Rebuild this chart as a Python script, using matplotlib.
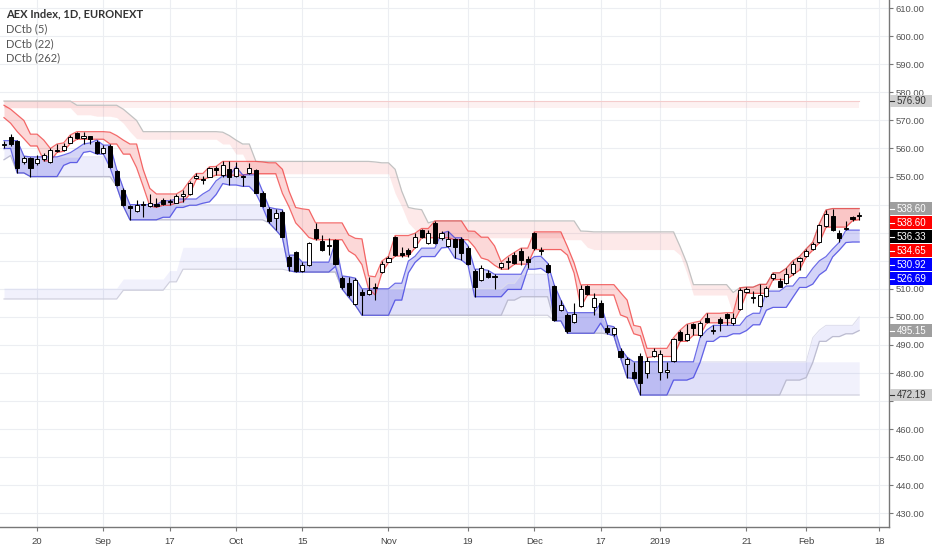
#import the libraries
import numpy as np
import pandas as pd
import matplotlib
matplotlib.use("Agg")
import matplotlib.pyplot as plt
import matplotlib.transforms as mtransforms
from matplotlib.patches import Rectangle
from matplotlib.lines import Line2D

# bars before the visible window (Jul 13 - Aug 10 2018), only used for the channels
pre_highs = [559.5, 561.0, 563.0, 566.0, 569.0, 572.0, 574.0, 575.0, 575.6, 576.2,
             576.9, 575.2, 574.8, 575.3, 574.6, 573.8, 574.9, 575.4, 574.0, 572.0, 570.0]
pre_lows = [556.0, 557.5, 559.5, 562.0, 565.0, 568.0, 570.0, 571.5, 572.5, 573.5,
            574.5, 572.0, 571.5, 572.0, 571.0, 570.5, 571.5, 571.0, 569.0, 566.0, 563.5]

# daily candles Aug 13 2018 - Feb 13 2019
opens = [561.3, 564.0, 562.5, 555.3, 556.5, 554.7, 556.1, 555.3, 559.6, 559.4,
         562.1, 565.4, 563.8, 564.5, 562.4, 558.5, 560.9, 552.0, 545.2, 539.5,
         537.8, 540.0, 539.5, 540.2, 541.6, 540.8, 540.7, 543.2, 543.8, 549.5,
         548.6, 550.0, 553.0, 550.5, 552.6, 550.2, 550.2, 551.3, 552.3, 544.3,
         538.5, 535.1, 537.5, 521.5, 523.2, 516.5, 518.5, 531.5, 527.1, 525.4,
         527.4, 513.7, 512.2, 504.6, 509.0, 508.2, 510.3, 516.1, 519.7, 528.6,
         522.6, 523.8, 525.0, 530.9, 526.4, 533.5, 528.0, 525.3, 527.6, 527.6,
         524.4, 516.4, 513.3, 515.8, 514.6, 517.9, 519.4, 522.1, 523.6, 520.6,
         530.0, 523.6, 518.5, 511.0, 502.5, 500.7, 498.3, 503.9, 511.0, 503.4,
         504.8, 496.2, 493.8, 487.9, 483.1, 480.5, 486.2, 479.9, 486.2, 480.3,
         480.5, 484.3, 494.5, 491.8, 497.4, 493.5, 499.7, 495.1, 499.2, 500.9,
         497.7, 502.8, 508.8, 506.6, 504.0, 507.5, 513.7, 512.8, 512.0, 515.5,
         519.9, 521.8, 524.2, 526.8, 532.5, 536.0, 529.8, 531.2, 535.6, 536.1]
highs = [562.8, 565.1, 563.0, 557.3, 557.0, 557.7, 558.5, 560.0, 561.6, 562.0,
         564.8, 566.0, 565.8, 564.6, 563.0, 561.2, 561.6, 552.5, 545.8, 540.0,
         541.6, 541.4, 543.8, 542.2, 542.4, 542.0, 543.8, 545.2, 548.5, 551.1,
         550.2, 553.5, 553.6, 555.4, 555.4, 555.2, 550.6, 554.9, 552.6, 544.8,
         539.0, 538.5, 538.2, 522.0, 523.6, 519.5, 526.8, 533.5, 529.2, 528.0,
         527.8, 514.6, 514.3, 513.8, 510.0, 514.3, 512.0, 519.9, 521.6, 529.0,
         525.0, 524.5, 529.8, 531.5, 530.9, 534.2, 530.6, 530.5, 528.2, 528.4,
         525.3, 517.0, 518.5, 516.6, 515.2, 519.6, 521.5, 523.0, 524.5, 521.6,
         530.3, 525.0, 519.2, 511.4, 506.0, 501.5, 504.8, 511.4, 511.5, 508.7,
         506.0, 497.0, 496.5, 488.8, 485.6, 484.0, 487.0, 485.8, 488.8, 488.2,
         484.0, 492.6, 495.3, 497.4, 498.0, 498.5, 501.3, 497.0, 500.0, 501.5,
         501.3, 510.4, 510.6, 509.2, 511.6, 511.0, 515.7, 514.0, 517.3, 520.0,
         521.5, 524.2, 526.6, 533.2, 538.1, 538.6, 530.92, 534.0, 536.0, 537.5]
lows = [560.0, 560.9, 551.3, 554.4, 550.0, 554.0, 555.6, 555.0, 558.6, 559.0,
        561.8, 563.3, 561.6, 561.6, 558.0, 558.0, 553.2, 546.5, 539.5, 534.6,
        537.5, 535.5, 539.0, 539.0, 539.8, 539.8, 540.5, 541.0, 543.6, 549.0,
        547.5, 549.7, 550.5, 550.0, 547.0, 549.8, 546.5, 551.0, 544.0, 539.2,
        533.5, 531.0, 528.3, 516.5, 516.0, 516.0, 518.0, 527.5, 523.5, 522.0,
        518.6, 510.0, 507.0, 504.2, 500.6, 507.8, 506.0, 515.7, 519.4, 521.7,
        521.5, 521.5, 524.6, 528.2, 526.0, 526.0, 527.5, 524.8, 521.0, 520.3,
        518.4, 507.2, 512.8, 513.8, 509.8, 517.0, 517.0, 518.8, 518.5, 517.3,
        524.0, 522.0, 515.6, 498.6, 502.0, 494.2, 497.8, 503.5, 507.8, 500.7,
        499.8, 494.0, 493.3, 485.5, 478.4, 478.0, 472.19, 478.4, 485.9, 477.5,
        478.4, 483.8, 491.3, 491.3, 493.5, 493.0, 497.9, 494.0, 495.15, 497.3,
        497.2, 502.4, 508.4, 504.8, 503.4, 507.0, 513.3, 510.5, 511.7, 515.0,
        516.7, 521.4, 523.8, 526.5, 532.0, 530.5, 526.69, 530.95, 534.3, 534.65]
closes = [561.6, 561.6, 553.0, 556.5, 552.9, 556.1, 557.7, 559.4, 559.2, 560.9,
          564.2, 563.6, 564.6, 563.4, 558.5, 560.0, 553.5, 547.0, 539.8, 538.8,
          539.9, 540.4, 540.7, 539.6, 540.4, 541.2, 543.0, 543.8, 547.8, 550.2,
          549.0, 552.9, 552.3, 554.1, 549.7, 552.9, 549.8, 553.1, 544.3, 539.5,
          534.0, 536.9, 528.6, 518.0, 516.5, 518.5, 526.2, 528.0, 524.0, 525.8,
          519.0, 510.7, 507.8, 513.3, 507.8, 509.6, 510.7, 518.8, 520.9, 522.1,
          522.2, 522.4, 528.6, 528.6, 529.8, 526.2, 529.8, 527.6, 525.0, 522.6,
          518.8, 510.5, 517.5, 514.4, 514.1, 519.1, 519.8, 519.1, 520.3, 519.7,
          524.4, 524.0, 516.1, 499.0, 504.2, 495.1, 501.0, 509.8, 508.2, 506.6,
          500.1, 494.5, 495.9, 485.8, 485.0, 478.4, 476.4, 484.4, 487.9, 486.7,
          481.0, 492.1, 491.8, 493.8, 496.2, 497.7, 498.3, 495.5, 498.0, 499.7,
          499.7, 509.6, 510.0, 507.0, 507.8, 510.4, 515.2, 510.8, 515.2, 518.7,
          520.9, 523.5, 525.9, 532.7, 536.5, 530.9, 528.0, 531.6, 534.9, 536.33]

# lowest low / lowest high of the 262 day window coming from older bars (late 2017)
old262_start = [0, 18, 25, 27]
old262_low = [506.4, 509.5, 512.5, 517.0]
old262_high = [510.3, 513.5, 516.5, 524.8]

holidays = ["2018-12-25", "2018-12-26", "2019-01-01"]
tick_dates = ["2018-08-20", "2018-09-03", "2018-09-17", "2018-10-01", "2018-10-15",
              "2018-11-01", "2018-11-19", "2018-12-03", "2018-12-17", "2019-01-02",
              "2019-01-21", "2019-02-01", "2019-02-18"]
tick_labels = ["20", "Sep", "17", "Oct", "15", "Nov", "19", "Dec", "17", "2019",
               "21", "Feb", "18"]
price_ticks = np.arange(430, 611, 10)

days = pd.bdate_range("2018-08-13", "2019-02-22")
days = days[~days.isin(pd.to_datetime(holidays))]
n = len(closes)
x = np.arange(n)

all_h = np.array(pre_highs + highs)
all_l = np.array(pre_lows + lows)
off = len(pre_highs)


def dctb(length):
    # top band: highest high / highest low, bottom band: lowest low / lowest high
    up, up_in, dn, dn_in = [], [], [], []
    for i in range(n):
        j = i + off
        a = max(0, j - length + 1)
        h = all_h[a:j + 1]
        l = all_l[a:j + 1]
        up.append(h.max())
        up_in.append(l.max())
        dn.append(l.min())
        dn_in.append(h.min())
    return np.array(up), np.array(up_in), np.array(dn), np.array(dn_in)


dc5 = dctb(5)
dc22 = dctb(22)
dc262 = list(dctb(262))
step = np.searchsorted(old262_start, x, side="right") - 1
dc262[2] = np.minimum(dc262[2], np.array(old262_low)[step])
dc262[3] = np.minimum(dc262[3], np.array(old262_high)[step])

plt.rcParams["font.family"] = ["Liberation Sans", "DejaVu Sans"]
fig = plt.figure(figsize=(9.32, 5.5), dpi=100)
ax = fig.add_axes([0, 0.042, 889 / 932, 0.958])

red = "#f03c3c"
blue = "#3c3ce0"

# 262
ax.fill_between(x, dc262[1], dc262[0], color=red, alpha=0.07, lw=0)
ax.plot(x, dc262[0], color="#f4cccc", lw=0.8)
ax.fill_between(x, dc262[2], dc262[3], color=blue, alpha=0.07, lw=0)
ax.plot(x, dc262[2], color="#cfcfdc", lw=0.8)
# 22
ax.fill_between(x, dc22[1], dc22[0], color=red, alpha=0.11, lw=0)
ax.plot(x, dc22[0], color="#c2c2c2", lw=0.9)
ax.fill_between(x, dc22[2], dc22[3], color=blue, alpha=0.09, lw=0)
ax.plot(x, dc22[2], color="#bcbcd0", lw=0.9)
ax.plot(x, dc22[3], color="#dcdcec", lw=0.7)
# 5
ax.fill_between(x, dc5[1], dc5[0], color=red, alpha=0.2, lw=0)
ax.plot(x, dc5[0], color=red, lw=0.9, alpha=0.75)
ax.plot(x, dc5[1], color=red, lw=0.9, alpha=0.75)
ax.fill_between(x, dc5[2], dc5[3], color=blue, alpha=0.22, lw=0)
ax.plot(x, dc5[2], color=blue, lw=0.9, alpha=0.75)
ax.plot(x, dc5[3], color=blue, lw=0.9, alpha=0.75)

# candles
o = np.array(opens)
c = np.array(closes)
ax.vlines(x, lows, highs, color="black", lw=0.8, zorder=4)
body_col = np.where(c >= o, "white", "black")
ax.bar(x, np.abs(c - o), bottom=np.minimum(o, c), width=0.62, color=body_col,
       edgecolor="black", linewidth=0.7, zorder=5)

ax.set_xlim(-0.6, 133.5)
ax.set_ylim(425.2, 612.9)

tick_pos = [days.get_loc(pd.Timestamp(d)) for d in tick_dates]
ax.set_xticks(tick_pos)
ax.set_xticklabels(tick_labels)
ax.set_yticks(price_ticks)
ax.set_yticklabels([f"{p:.2f}" for p in price_ticks])
ax.yaxis.tick_right()
ax.tick_params(axis="y", length=3, color="#777777", labelsize=6.8,
               labelcolor="#555555", pad=2)
ax.tick_params(axis="x", length=3, color="#777777", labelsize=6.8,
               labelcolor="#444444", pad=4)
for s in ["top", "left"]:
    ax.spines[s].set_visible(False)
for s in ["right", "bottom"]:
    ax.spines[s].set_color("#777777")
    ax.spines[s].set_linewidth(1.0)
ax.grid(color="#eceef2", lw=0.8)
ax.set_axisbelow(True)

# price boxes on the scale
boxes = [(dc262[0][-1], "#cfcfcf", "#333333"),
         (dc22[0][-1], "#9e9e9e", "white"),
         (dc5[0][-1], "#ff0000", "white"),
         (closes[-1], "#000000", "white"),
         (dc5[1][-1], "#ff0000", "white"),
         (dc5[3][-1], "#0000ff", "white"),
         (dc5[2][-1], "#0000ff", "white"),
         (dc22[2][-1], "#9e9e9e", "white"),
         (dc262[2][-1], "#cfcfcf", "#333333")]
blend = mtransforms.blended_transform_factory(fig.transFigure, ax.transData)
gap = 5.0
prev = None
box_pos = []
for val, fc, tc in boxes:
    ypos = val if prev is None else min(val, prev - gap)
    prev = ypos
    box_pos.append(ypos)
    fig.add_artist(Rectangle((890 / 932, ypos - 2.25), 42 / 932, 4.5, transform=blend,
                             facecolor=fc, edgecolor="none", zorder=10))
    fig.add_artist(Line2D([890 / 932, 894 / 932], [ypos, ypos], transform=blend,
                          color=tc, lw=0.8, zorder=11))
    fig.text(897 / 932, ypos, f"{val:.2f}", transform=blend, ha="left", va="center",
             fontsize=7, color=tc, zorder=12)

# scale labels hidden behind the boxes
for p, lab in zip(price_ticks, ax.get_yticklabels()):
    if min(abs(p - b) for b in box_pos) < 3.0:
        lab.set_visible(False)

# legend
fig.text(6 / 932, 1 - 14 / 550, "AEX Index, 1D, EURONEXT", fontsize=8, color="#333333",
         va="center", family=["Lato", "DejaVu Sans"], weight="bold")
for k, t in enumerate(["DCtb (5)", "DCtb (22)", "DCtb (262)"]):
    fig.text(6 / 932, 1 - (29 + 14.3 * k) / 550, t, fontsize=8, color="#555555",
             va="center", family=["Lato", "DejaVu Sans"])

plt.savefig("out.png", dpi=100)
